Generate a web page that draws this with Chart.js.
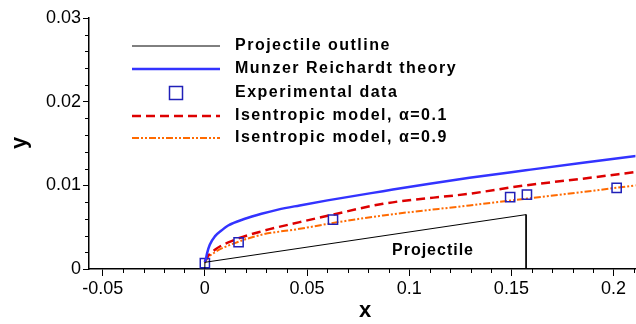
<!DOCTYPE html>
<html>
<head>
<meta charset="utf-8">
<title>Cavity profile</title>
<script src="https://cdn.jsdelivr.net/npm/chart.js@4.4.1/dist/chart.umd.min.js"></script>
<style>
  body { margin: 0; background: #fff; overflow: hidden; }
  #wrap { width: 636px; height: 324px; }
  canvas { display: block; }
</style>
</head>
<body>
<div id="wrap"><canvas id="cavidade" width="636" height="324"></canvas></div>
<script>
// contorno do projetil
const contornoX = [0, 0, 0.1572, 0.1572];
const contornoY = [0, 0.0008, 0.0065, 0];

// teoria de Munzer Reichardt
const teoriaX = [0, 0.0005, 0.0011, 0.0024, 0.0049, 0.0081, 0.0114, 0.0196, 0.0277, 0.0358, 0.0464, 0.06, 0.0872, 0.11, 0.1295, 0.157, 0.185, 0.211];
const teoriaY = [0.0008, 0.0012, 0.0019, 0.0029, 0.0039, 0.0046, 0.0052, 0.006, 0.0066, 0.0071, 0.0076, 0.0082, 0.0093, 0.0102, 0.0109, 0.0118, 0.0127, 0.0135];

// dados experimentais
const expX = [0, 0.0165, 0.0627, 0.1494, 0.1576, 0.2015];
const expY = [0.0007, 0.0032, 0.0059, 0.0086, 0.0089, 0.0097];

// modelo isentropico
const isoX = [0, 0.0008, 0.0049, 0.0147, 0.0277, 0.0464, 0.0627, 0.0872, 0.1295, 0.157, 0.185, 0.211];
const iso01Y = [0.0009, 0.0013, 0.0023, 0.0035, 0.0045, 0.0056, 0.0065, 0.0078, 0.009, 0.01, 0.0108, 0.0116];
const iso09Y = [0.0007, 0.0011, 0.002, 0.0031, 0.0041, 0.0048, 0.0055, 0.0064, 0.0076, 0.0084, 0.0092, 0.01];

// eixos
const xMin = -0.0567;
const xMax = 0.2107;
const xMajor = [-0.05, 0, 0.05, 0.1, 0.15, 0.2];
const xTickLabels = ["-0.05", "0", "0.05", "0.1", "0.15", "0.2"];
const yMajor = [0, 0.01, 0.02, 0.03];
const yTickLabels = ["0", "0.01", "0.02", "0.03"];

const fonte = '"Liberation Sans", Arial, sans-serif';

function pares(xs, ys) {
  return xs.map((x, i) => ({ x: x, y: ys[i] }));
}

// ticks a cada passo, maiores nos valores com rotulo
function montarTicks(ini, fim, passo) {
  const lista = [];
  const n = Math.round((fim - ini) / passo);
  for (let i = 0; i <= n; i++) {
    lista.push(+(ini + i * passo).toFixed(4));
  }
  return lista;
}
const xTicks = montarTicks(-0.05, 0.21, 0.01);
const yTicks = montarTicks(0, 0.03, 0.002);

function rotulo(valor, maiores, textos) {
  const i = maiores.findIndex((m) => Math.abs(m - valor) < 1e-6);
  return i >= 0 ? textos[i] : "";
}

const legendaPlugin = {
  id: "legenda",
  afterDraw(chart) {
    const ctx = chart.ctx;
    const linhas = [46, 69, 93, 116, 138];
    ctx.save();
    ctx.font = "bold 16px " + fonte;
    ctx.letterSpacing = "1.5px";
    ctx.fillStyle = "#000";
    ctx.textBaseline = "middle";
    chart.data.datasets.forEach((ds, i) => {
      const y = linhas[i];
      if (ds.showLine === false) {
        ctx.strokeStyle = ds.borderColor;
        ctx.lineWidth = ds.borderWidth;
        ctx.setLineDash([]);
        ctx.strokeRect(176 - 6.5, y - 6.5, 13, 13);
      } else {
        ctx.strokeStyle = ds.borderColor;
        ctx.lineWidth = ds.borderWidth;
        ctx.setLineDash(ds.borderDash || []);
        ctx.beginPath();
        ctx.moveTo(132, y);
        ctx.lineTo(220, y);
        ctx.stroke();
      }
      ctx.fillText(ds.label, 235, y);
    });

    // texto dentro do projetil
    ctx.textAlign = "center";
    ctx.letterSpacing = "1px";
    ctx.fillText("Projectile", 433, 251);

    // titulos dos eixos
    ctx.letterSpacing = "0px";
    ctx.font = "bold 22px " + fonte;
    ctx.fillText("x", 365, 311);
    ctx.translate(20, 143);
    ctx.rotate(-Math.PI / 2);
    ctx.fillText("y", 0, 0);
    ctx.restore();
  },
};

// ticks menores
const ticksMenoresPlugin = {
  id: "ticksMenores",
  afterDraw(chart) {
    const ctx = chart.ctx;
    const sx = chart.scales.x;
    const sy = chart.scales.y;
    const base = chart.chartArea.bottom;
    const esq = chart.chartArea.left;
    ctx.save();
    ctx.strokeStyle = "#000";
    ctx.lineWidth = 1;
    xTicks.forEach((v) => {
      if (rotulo(v, xMajor, xTickLabels) !== "") return;
      const px = Math.round(sx.getPixelForValue(v)) + 0.5;
      ctx.beginPath();
      ctx.moveTo(px, base);
      ctx.lineTo(px, base + 4);
      ctx.stroke();
    });
    yTicks.forEach((v) => {
      if (rotulo(v, yMajor, yTickLabels) !== "") return;
      const py = Math.round(sy.getPixelForValue(v)) + 0.5;
      ctx.beginPath();
      ctx.moveTo(esq, py);
      ctx.lineTo(esq - 4, py);
      ctx.stroke();
    });
    ctx.restore();
  },
};

const chart = new Chart(document.getElementById("cavidade"), {
  type: "scatter",
  data: {
    datasets: [
      {
        label: "Projectile outline",
        data: pares(contornoX, contornoY),
        showLine: true,
        borderColor: "#000",
        borderWidth: 1,
        pointRadius: 0,
      },
      {
        label: "Munzer Reichardt theory",
        data: pares(teoriaX, teoriaY),
        showLine: true,
        borderColor: "#3333ff",
        borderWidth: 2.5,
        pointRadius: 0,
        cubicInterpolationMode: "monotone",
      },
      {
        label: "Experimental data",
        data: pares(expX, expY),
        showLine: false,
        borderColor: "#2020b8",
        backgroundColor: "rgba(0,0,0,0)",
        borderWidth: 1.5,
        pointStyle: "rect",
        pointRadius: 6.5,
      },
      {
        label: "Isentropic model, \u03b1=0.1",
        data: pares(isoX, iso01Y),
        showLine: true,
        borderColor: "#dd0000",
        borderWidth: 2.5,
        borderDash: [9, 5],
        pointRadius: 0,
        cubicInterpolationMode: "monotone",
      },
      {
        label: "Isentropic model, \u03b1=0.9",
        data: pares(isoX, iso09Y),
        showLine: true,
        borderColor: "#ff6a00",
        borderWidth: 2,
        borderDash: [7, 2, 2, 2, 2, 2],
        pointRadius: 0,
        cubicInterpolationMode: "monotone",
      },
    ],
  },
  options: {
    responsive: false,
    devicePixelRatio: 1,
    animation: false,
    layout: { autoPadding: false, padding: { top: 18, right: 0, left: 0, bottom: 0 } },
    plugins: {
      legend: { display: false },
      tooltip: { enabled: false },
    },
    scales: {
      x: {
        type: "linear",
        min: xMin,
        max: xMax,
        // tick vazio na borda esquerda para o alinhamento "inner" nao mexer nos rotulos
        afterBuildTicks: (s) => { s.ticks = [xMin].concat(xTicks).map((v) => ({ value: v })); },
        afterFit: (s) => { s.height = 55; },
        border: { display: true, color: "#000", width: 1.5 },
        grid: {
          drawOnChartArea: false,
          tickLength: 7,
          tickColor: (c) => (c.tick && rotulo(c.tick.value, xMajor, xTickLabels) !== "" ? "#000" : "rgba(0,0,0,0)"),
        },
        ticks: {
          autoSkip: false,
          maxRotation: 0,
          align: "inner",
          padding: 2,
          color: "#000",
          font: { family: fonte, size: 18 },
          callback: (v) => rotulo(v, xMajor, xTickLabels),
        },
      },
      y: {
        type: "linear",
        min: 0,
        max: 0.03,
        afterBuildTicks: (s) => { s.ticks = yTicks.map((v) => ({ value: v })); },
        afterFit: (s) => { s.width = 89; },
        border: { display: true, color: "#000", width: 1.5 },
        grid: {
          drawOnChartArea: false,
          tickLength: 6,
          tickColor: (c) => (c.tick && rotulo(c.tick.value, yMajor, yTickLabels) !== "" ? "#000" : "rgba(0,0,0,0)"),
        },
        ticks: {
          autoSkip: false,
          padding: 2,
          color: "#000",
          font: { family: fonte, size: 18 },
          callback: (v) => rotulo(v, yMajor, yTickLabels),
        },
      },
    },
  },
  plugins: [legendaPlugin, ticksMenoresPlugin],
});
</script>
</body>
</html>
